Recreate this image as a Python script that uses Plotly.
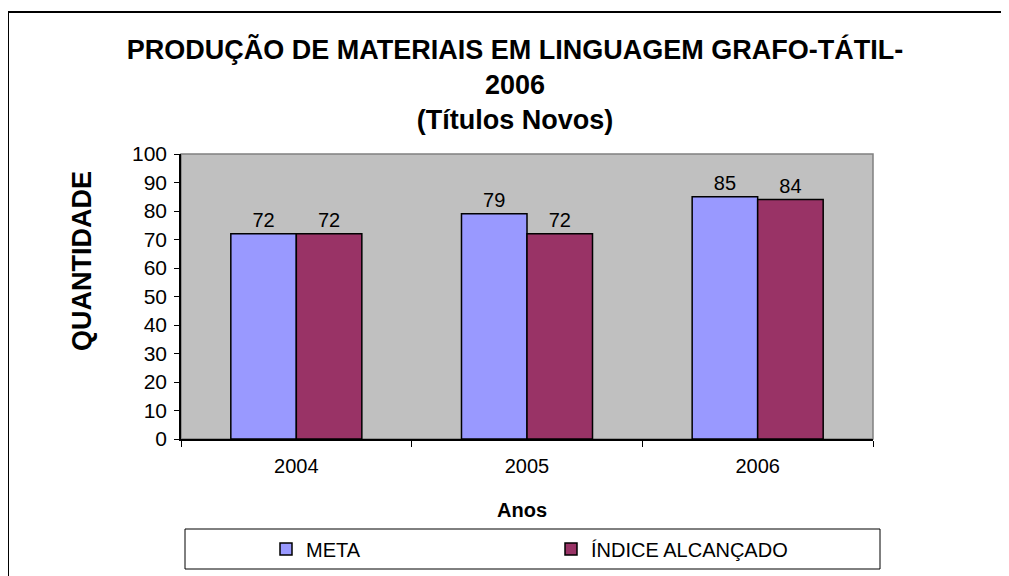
import plotly.graph_objects as go

anos = ["2004", "2005", "2006"]
meta = [72, 79, 85]
indice = [72, 72, 84]
y_ticks = [0, 10, 20, 30, 40, 50, 60, 70, 80, 90, 100]

FONT = "Arial, Liberation Sans, sans-serif"
W, H = 1009, 576
OFF = 8  # page body margin offset
L, R, T, B = 181 - OFF, 873 - OFF, 154 - OFF, 439 - OFF


def px(x):
    return (x - OFF - L) / (R - L)


def py(y):
    return (B - (y - OFF)) / (B - T)


def cx(x):
    return (x - OFF) / W


def cy(y):
    return 1 - (y - OFF) / H


fig = go.Figure()
fig.add_trace(go.Bar(
    x=anos, y=meta, name="META",
    marker=dict(color="#9999FF", line=dict(color="black", width=1.5)),
    text=[str(v) for v in meta], textposition="outside",
    textfont=dict(family=FONT, size=20, color="black"),
    cliponaxis=False,
))
fig.add_trace(go.Bar(
    x=anos, y=indice, name="ÍNDICE ALCANÇADO",
    marker=dict(color="#993366", line=dict(color="black", width=1.5)),
    text=[str(v) for v in indice], textposition="outside",
    textfont=dict(family=FONT, size=20, color="black"),
    cliponaxis=False,
))

fig.update_layout(
    width=W, height=H,
    margin=dict(l=L, r=W - R, t=T, b=H - B, pad=0),
    paper_bgcolor="white",
    plot_bgcolor="#C0C0C0",
    barmode="group", bargap=0.432, bargroupgap=0,
    font=dict(family=FONT, color="black"),
    title=dict(
        text="<b>PRODUÇÃO DE MATERIAIS EM LINGUAGEM GRAFO-TÁTIL-<br>2006<br>(Títulos Novos)</b>",
        font=dict(family=FONT, size=27, color="black"),
        x=cx(515), xanchor="center", xref="container",
        y=cy(59), yanchor="top", yref="container",
    ),
    xaxis=dict(
        showgrid=False, showline=True, linecolor="black", linewidth=1.5,
        ticks="outside", ticklen=6, tickcolor="black", tickson="boundaries",
        ticklabelstandoff=8,
        tickfont=dict(family=FONT, size=20, color="black"),
        zeroline=False,
    ),
    yaxis=dict(
        range=[0, 100], tickvals=y_ticks, showgrid=False,
        showline=True, linecolor="black", linewidth=1.5,
        ticks="outside", ticklen=5, tickcolor="black",
        ticklabelstandoff=3,
        tickfont=dict(family=FONT, size=21, color="black"),
        zeroline=False,
    ),
    showlegend=True,
    legend=dict(
        orientation="h", xref="container", yref="container",
        x=cx(266), xanchor="left", y=cy(549), yanchor="middle",
        font=dict(family=FONT, size=20, color="black"),
        bgcolor="rgba(0,0,0,0)", borderwidth=0,
        entrywidth=240, entrywidthmode="pixels",
    ),
)

fig.add_annotation(
    text="<b>QUANTIDADE</b>", textangle=-90,
    xref="paper", yref="paper", x=px(82), y=py(261),
    xanchor="center", yanchor="middle", showarrow=False,
    font=dict(family=FONT, size=27, color="black"),
)
fig.add_annotation(
    text="<b>Anos</b>",
    xref="paper", yref="paper", x=px(522), y=py(510),
    xanchor="center", yanchor="middle", showarrow=False,
    font=dict(family=FONT, size=20, color="black"),
)

# plot area border (gray top/right)
fig.add_shape(type="rect", xref="paper", yref="paper", x0=0, x1=1, y0=0, y1=1,
              line=dict(color="#808080", width=1.5), layer="below")
# legend box
fig.add_shape(type="rect", xref="paper", yref="paper",
              x0=px(185), x1=px(880), y0=py(569), y1=py(529),
              line=dict(color="black", width=1), fillcolor="rgba(0,0,0,0)")
# outer chart border
fig.add_shape(type="rect", xref="paper", yref="paper",
              x0=px(8), x1=px(1040), y0=py(620), y1=py(12),
              line=dict(color="black", width=2), fillcolor="rgba(0,0,0,0)")

fig.write_html("out.html")
